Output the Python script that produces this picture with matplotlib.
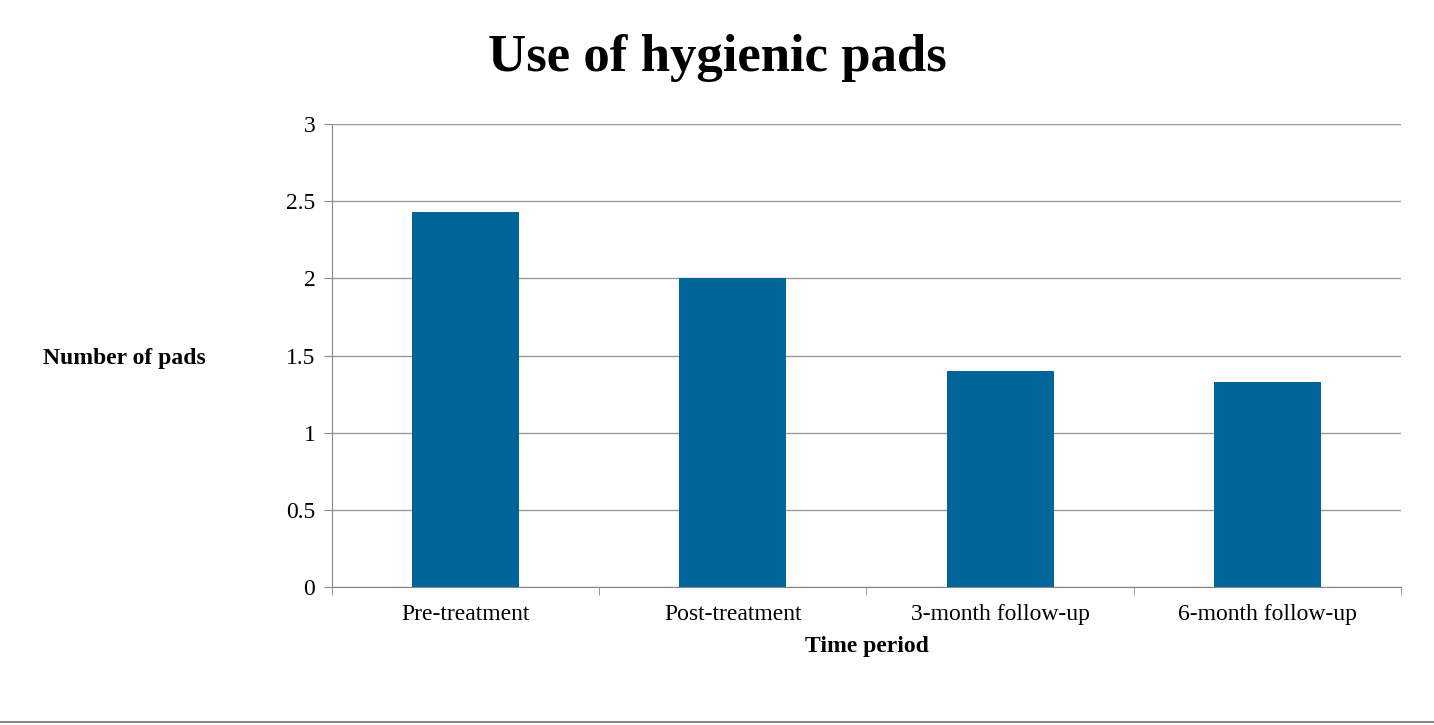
import matplotlib
matplotlib.use("Agg")
import matplotlib.pyplot as plt
from matplotlib.lines import Line2D

categories = ["Pre-treatment", "Post-treatment", "3-month follow-up", "6-month follow-up"]
values = [2.43, 2.0, 1.4, 1.33]
yticks = [0, 0.5, 1, 1.5, 2, 2.5, 3]
ytick_labels = ["0", "0.5", "1", "1.5", "2", "2.5", "3"]

plt.rcParams['font.family'] = ['Liberation Serif', 'DejaVu Serif']
fig = plt.figure(figsize=(14.34, 7.25), dpi=100)
ax = fig.add_axes([0.2315, 0.1903, 0.7455, 0.6387])
x = list(range(len(categories)))
ax.bar(x, values, width=0.4, color="#006699", zorder=3)
ax.set_xlim(-0.5, len(categories) - 0.5)
ax.set_ylim(0, 3)
ax.set_yticks(yticks)
ax.set_yticklabels(ytick_labels, fontsize=17)
ax.set_xticks(x)
ax.set_xticklabels(categories, fontsize=17)
ax.tick_params(axis='x', length=0, pad=12)
ax.set_xticks([i - 0.5 for i in range(len(categories) + 1)], minor=True)
ax.tick_params(axis='x', which='minor', length=6, color="#888888")
ax.tick_params(axis='y', length=6, color="#888888", pad=6)
ax.yaxis.grid(True, color="#999999", linewidth=1, zorder=0)
for s in ["top", "right"]:
    ax.spines[s].set_visible(False)
ax.spines["left"].set_color("#888888")
ax.spines["bottom"].set_color("#888888")
ax.set_xlabel("Time period", fontsize=17, fontweight="bold", labelpad=8)
fig.text(0.03, 0.505, "Number of pads", fontsize=17, fontweight="bold", va="center", ha="left")
fig.text(0.5, 0.92, "Use of hygienic pads", fontsize=38, fontweight="bold", ha="center", va="center")
fig.add_artist(Line2D([0, 1], [0.004, 0.004], color="#888888", linewidth=1.5, transform=fig.transFigure))
fig.savefig("out.png", dpi=100)
